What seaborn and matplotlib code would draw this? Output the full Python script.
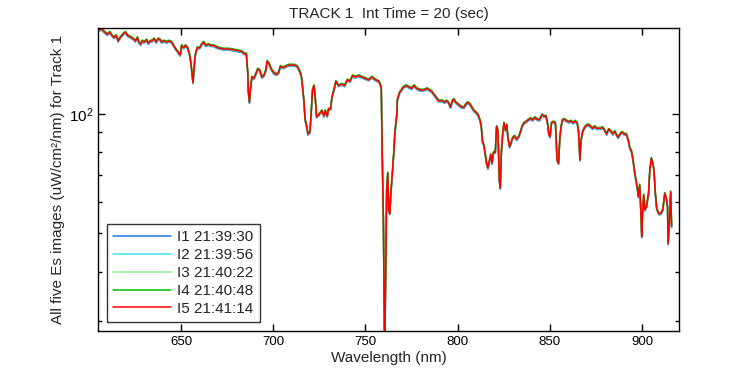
import numpy as np
import pandas as pd
import matplotlib
matplotlib.use("Agg")
import matplotlib.pyplot as plt
import seaborn as sns
from matplotlib.ticker import LogLocator, NullFormatter

sns.set_style("ticks")
plt.rcParams["font.family"] = ["Liberation Sans", "DejaVu Sans"]
plt.rcParams["mathtext.fontset"] = "custom"
plt.rcParams["mathtext.rm"] = "Liberation Sans"

# ----------------------------------------------------------------------
# data (wavelength nm, Es uW/cm2/nm)
# ----------------------------------------------------------------------
wavelength = [
    605.4, 606.8, 608.6, 610.1, 611.4, 612.6, 613.7, 614.8, 615.9, 617.0,
    618.0, 619.1, 619.9, 621.0, 622.2, 624.0, 625.3, 626.4, 627.1, 628.2,
    628.9, 630.0, 631.3, 632.2, 633.3, 634.3, 635.4, 636.5, 637.6, 638.7,
    639.5, 640.9, 642.3, 643.4, 644.9, 646.0, 647.1, 648.2, 648.9, 649.6,
    650.3, 651.4, 652.5, 653.6, 654.7, 655.4, 656.1, 656.5, 656.9, 657.6,
    658.7, 660.1, 661.2, 662.3, 663.4, 664.8, 666.3, 667.7, 668.8, 670.2,
    673.0, 676.0, 679.3, 682.9, 684.3, 685.4, 686.2, 686.5, 687.1, 687.6,
    688.4, 689.5, 690.5, 691.6, 692.7, 693.8, 694.9, 696.0, 696.7, 697.8,
    698.9, 700.3, 701.7, 702.8, 703.9, 705.4, 706.8, 708.3, 710.1, 711.5,
    713.0, 714.1, 715.2, 715.9, 716.6, 717.3, 718.0, 718.8, 719.9, 720.6,
    721.3, 722.1, 722.8, 723.5, 724.6, 725.7, 726.4, 727.5, 728.2, 729.3,
    730.0, 731.1, 731.8, 732.9, 734.0, 735.4, 737.3, 738.7, 740.2, 741.6,
    743.0, 744.5, 746.3, 748.2, 750.0, 751.7, 753.6, 755.4, 757.2, 758.0,
    758.6, 759.0, 759.7, 760.1, 760.4, 760.8, 761.2, 761.5, 762.1, 762.6,
    763.2, 763.7, 764.2, 764.8, 765.3, 765.9, 766.4, 767.0, 767.3, 768.4,
    769.5, 770.6, 772.1, 773.5, 775.0, 776.4, 777.8, 779.8, 781.6, 783.5,
    784.6, 786.0, 787.1, 788.5, 789.6, 790.7, 791.8, 792.9, 794.0, 795.0,
    796.1, 797.2, 797.9, 799.0, 800.1, 801.2, 802.3, 803.4, 804.5, 805.5,
    806.6, 807.7, 808.8, 809.9, 811.0, 812.1, 812.8, 813.5, 814.2, 815.0,
    815.7, 816.4, 817.2, 817.9, 818.6, 819.4, 820.4, 821.1, 821.8, 822.6,
    823.1, 823.7, 824.4, 825.1, 825.9, 826.6, 827.3, 828.1, 828.8, 829.8,
    830.9, 832.0, 833.1, 833.8, 834.9, 836.0, 837.1, 838.2, 839.6, 840.7,
    841.8, 843.2, 844.3, 845.8, 846.8, 847.9, 848.7, 849.4, 850.1, 850.9,
    852.0, 853.0, 853.9, 854.7, 855.4, 856.1, 856.8, 857.9, 859.3, 860.4,
    861.5, 862.6, 863.7, 864.8, 865.5, 866.3, 866.8, 867.7, 868.8, 869.9,
    871.0, 872.1, 873.2, 874.3, 875.4, 876.4, 877.5, 878.6, 879.7, 880.8,
    881.9, 883.0, 884.1, 885.2, 886.3, 887.0, 888.1, 889.2, 890.3, 891.4,
    892.5, 893.2, 894.3, 895.1, 895.8, 896.5, 897.3, 898.0, 898.7, 899.5,
    899.8, 900.2, 900.9, 901.5, 902.4, 903.5, 904.2, 905.0, 905.7, 906.4,
    907.2, 907.9, 909.0, 910.1, 911.2, 912.3, 913.0, 913.8, 914.1, 914.9,
    915.5, 916.0,
]
es_track1 = [
    163, 164, 161, 159, 161, 158, 156, 158, 153, 156,
    158, 160, 161, 158, 157, 155, 153, 156, 152, 150,
    153, 152, 154, 151, 153, 153, 155, 152, 155, 154,
    152, 153, 152, 153, 152, 149, 146, 144, 142, 141,
    149, 147, 149, 147, 141, 134, 125, 120, 127, 140,
    147, 147, 150, 152, 149, 150, 149, 149, 148, 147,
    146, 146, 145, 144, 142, 142, 127, 114, 107, 115,
    124, 123, 126, 130, 129, 124, 125, 129, 136, 134,
    130, 127, 126, 127, 132, 131, 132, 133, 133, 133,
    132, 129, 125, 117, 108.5, 96.6, 93.8, 89, 90, 101,
    115, 118, 110, 98.4, 99.4, 101, 102, 98.8, 102, 98.8,
    103, 103, 110, 115, 121, 118, 119, 118, 122, 121,
    125, 124, 125, 124, 123, 122, 124, 122, 121, 119,
    116, 84, 55, 35, 25, 34, 49, 64, 71, 57,
    56, 62, 67, 73, 79, 88.5, 94, 99.4, 108.5, 113,
    115, 117, 118, 117, 116, 118, 116, 115, 115, 116,
    115, 114, 112, 110, 108, 108, 108, 107, 108, 107,
    104, 108, 109, 107, 106, 105, 104, 104, 106, 107,
    106, 104, 102, 101, 99.6, 96.6, 93, 85, 83.5, 78.8,
    75, 73, 76, 79, 75, 80, 80, 93, 91, 68,
    65, 80, 89, 95, 91, 94, 87, 82.6, 84, 87,
    88, 86.3, 87.6, 89.4, 93, 95, 95.6, 96.6, 97.5, 96.6,
    98, 97, 96.6, 99.6, 98.8, 98.8, 95, 89, 87.6, 95,
    95.6, 95, 76.5, 75, 87, 93, 96.6, 97, 96, 95.5,
    96, 95, 96, 95, 91, 76.5, 85, 90, 92.5, 93.6,
    94, 93, 92, 93, 92, 92, 92, 92.5, 91, 89,
    91.5, 90.7, 89, 90.4, 88.3, 87.3, 89, 90, 89, 89,
    86, 82.6, 80.3, 76.5, 72.2, 68.8, 65.5, 61.8, 66.2, 54.5,
    49, 55.6, 62.4, 57.2, 58.3, 63, 72.2, 77.3, 75.3, 72.5,
    63, 57.8, 56, 56, 57.2, 63, 61.6, 58.3, 47, 54.5,
    63.6, 52,
]
# the five images differ by a hair only; relative level of each vs the red one
img_labels = ["I1 21:39:30", "I2 21:39:56", "I3 21:40:22", "I4 21:40:48", "I5 21:41:14"]
img_level = [0.994, 0.997, 1.002, 1.005, 1.0]
img_colors = ["#1f77e0", "#40e0e8", "#90ee90", "#00c000", "#ff0000"]

rows = []
for lab, lvl in zip(img_labels, img_level):
    rows.append(pd.DataFrame({"Wavelength": wavelength,
                              "Es": np.array(es_track1) * lvl,
                              "Image": lab}))
df = pd.concat(rows, ignore_index=True)

fig = plt.figure(figsize=(7.5, 3.75), dpi=100)
ax = fig.add_axes([0.1307, 0.1173, 0.7746, 0.808])
sns.lineplot(data=df, x="Wavelength", y="Es", hue="Image", palette=img_colors,
             hue_order=img_labels, estimator=None, sort=False, linewidth=1.1, ax=ax)

ax.set_yscale("log")
ax.set_xlim(605, 920)
ax.set_ylim(28.3, 165)
ax.set_xticks([650, 700, 750, 800, 850, 900])
ax.yaxis.set_major_locator(LogLocator(base=10, numticks=10))
ax.yaxis.set_minor_locator(LogLocator(base=10, subs=np.arange(2, 10), numticks=10))
ax.yaxis.set_minor_formatter(NullFormatter())
ax.tick_params(which="both", direction="in", top=True, right=True, colors="black",
               labelsize=9.5)
ax.tick_params(axis="y", labelsize=11)
ax.tick_params(which="major", length=5, width=1)
ax.tick_params(which="minor", length=3, width=1)
for sp in ax.spines.values():
    sp.set_color("black"); sp.set_linewidth(1)

ax.set_title("TRACK 1  Int Time = 20 (sec)", fontsize=11, pad=7)
ax.set_xlabel("Wavelength (nm)", fontsize=11, labelpad=2)
ax.set_ylabel("All five Es images (uW/cm²/nm) for Track 1", fontsize=11, labelpad=3)

leg = ax.legend(loc="lower left", fontsize=11, frameon=True, fancybox=False,
                handlelength=3.8, labelspacing=0.25, borderaxespad=0.6,
                borderpad=0.4, handletextpad=0.4)
leg.get_frame().set_edgecolor("black")
leg.get_frame().set_linewidth(1)

fig.savefig("out.png", dpi=100, facecolor="white")
